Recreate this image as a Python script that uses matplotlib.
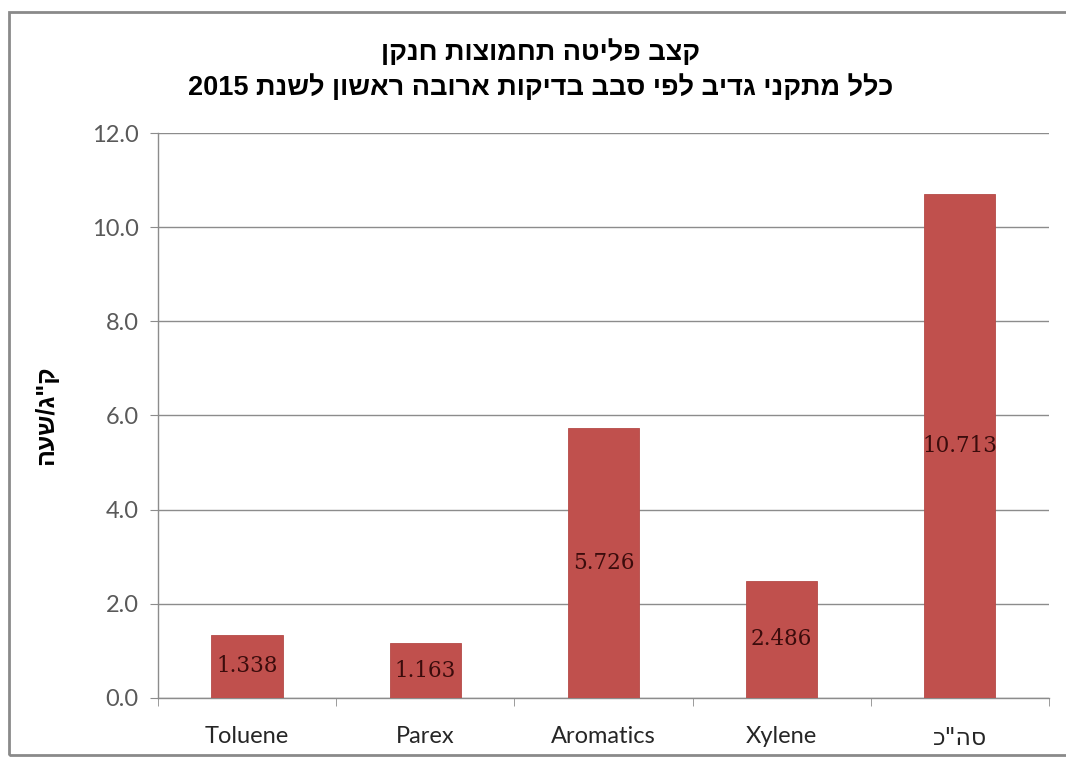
import re
import matplotlib
matplotlib.use("Agg")
import matplotlib.pyplot as plt
from matplotlib.patches import Rectangle


def heb(s):
    # matplotlib has no bidi support: lay Hebrew out right-to-left by hand,
    # keeping digit runs in their normal order
    if not re.search('[\u0590-\u05FF]', s):
        return s
    parts = re.split(r'(\d+(?:\.\d+)?)', s)
    out = []
    for p in reversed(parts):
        out.append(p if re.fullmatch(r'\d+(?:\.\d+)?', p) else p[::-1])
    return ''.join(out)


categories = ['Toluene', 'Parex', 'Aromatics', 'Xylene', 'סה"כ']
emissions = [1.338, 1.163, 5.726, 2.486, 10.713]
title_l1 = 'קצב פליטה תחמוצות חנקן'
title_l2 = 'כלל מתקני גדיב לפי סבב בדיקות ארובה ראשון לשנת 2015'
y_label = 'ק"ג/שעה'

bar_color = '#C0504D'
grid_color = '#8c8c8c'
text_gray = '#595959'

fig = plt.figure(figsize=(10.66, 7.58), dpi=100)
ax = fig.add_axes([0.1482, 0.0792, 0.8358, 0.7453])

x = range(len(categories))
bars = ax.bar(x, emissions, width=0.4, color=bar_color, edgecolor='#b44a47',
              linewidth=0.6, zorder=3)

for b, v in zip(bars, emissions):
    ax.text(b.get_x() + b.get_width() / 2, v / 2, f'{v:.3f}',
            ha='center', va='center', fontsize=15.5, color='#3b0c0c',
            family=['DejaVu Serif'], zorder=4)

ax.set_ylim(0, 12)
ax.set_xlim(-0.5, len(categories) - 0.5)
ax.set_yticks([0, 2, 4, 6, 8, 10, 12])
ax.set_yticklabels([f'{t:.1f}' for t in [0, 2, 4, 6, 8, 10, 12]])
ax.set_xticks(list(x))
ax.set_xticklabels([heb(c) for c in categories])
ax.set_xticks([i + 0.5 for i in range(-1, len(categories))], minor=True)

ax.yaxis.grid(True, color=grid_color, linewidth=1.0, zorder=0)
ax.set_axisbelow(True)
for side in ('top', 'right'):
    ax.spines[side].set_visible(False)
for side in ('left', 'bottom'):
    ax.spines[side].set_color(grid_color)
    ax.spines[side].set_linewidth(1.0)

ax.tick_params(axis='y', length=6, color=grid_color, labelcolor=text_gray,
               labelsize=17, pad=8)
ax.tick_params(axis='x', which='major', length=0, labelcolor='#262626',
               labelsize=17, pad=20)
ax.tick_params(axis='x', which='minor', length=6, color=grid_color)
for lbl in ax.get_yticklabels() + ax.get_xticklabels():
    lbl.set_family(['Lato', 'DejaVu Sans'])
ax.get_xticklabels()[-1].set_family(['DejaVu Sans'])
ax.get_xticklabels()[-1].set_fontsize(17)

ax.set_ylabel(heb(y_label), fontsize=18, fontweight='bold', rotation=90,
              family=['Liberation Sans', 'DejaVu Sans'], labelpad=24)

fig.text(0.507, 0.907, heb(title_l1) + '\n' + heb(title_l2), ha='center',
         va='center', fontsize=19.5, fontweight='bold', linespacing=1.4,
         family=['Liberation Sans', 'DejaVu Sans'])

# chart area frame
fig.patches.append(Rectangle((9 / 1066, 3 / 758), 1.1, 743 / 758,
                             transform=fig.transFigure, fill=False,
                             edgecolor='#8a8a8a', linewidth=2.0))

fig.savefig('out.png', dpi=100)
